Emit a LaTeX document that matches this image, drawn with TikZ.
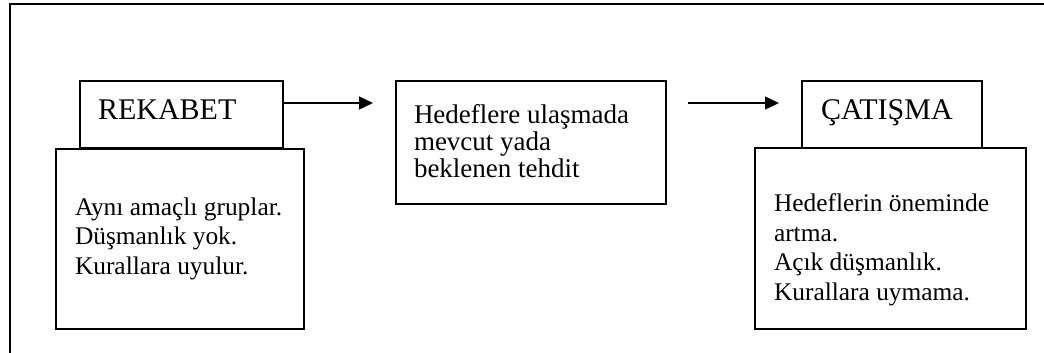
\documentclass[tikz,border=0pt]{standalone}
\usepackage{fontspec}
\setmainfont{Liberation Serif}
\usetikzlibrary{arrows.meta}
\begin{document}
\begin{tikzpicture}[x=1pt,y=-1pt,
  boxst/.style={draw,line width=1.4pt,inner sep=0pt,outer sep=0pt,anchor=north west},
  txt/.style={anchor=base west,inner sep=0pt,outer sep=0pt,align=left},
  big/.style={font=\fontsize{30}{34}\selectfont},
  mid/.style={font=\fontsize{27}{27}\selectfont},
  small/.style={font=\fontsize{25.4}{29.5}\selectfont},
  arr/.style={line width=1.4pt,-{Triangle[length=14pt,width=13pt]}}]
\useasboundingbox (0,0) rectangle (1044,353);
% outer frame
\draw[line width=1.4pt] (10,353) -- (10,4) -- (1044,4);
% left group
\node[boxst,minimum width=248pt,minimum height=180pt] (rekl) at (56,149) {};
\node[boxst,minimum width=203pt,minimum height=67pt,fill=white] (rek) at (80,81) {};
\node[txt,big] (rekt) at (98,119) {REKABET};
\node[txt,small] (rekd) at (75,274) {Aynı amaçlı gruplar.\\Düşmanlık yok.\\Kurallara uyulur.};
% middle
\node[boxst,minimum width=270pt,minimum height=123pt] (midb) at (396,81) {};
\node[txt,mid] (midt) at (414,177) {Hedeflere ulaşmada\\mevcut yada\\beklenen tehdit};
% right group
\node[boxst,minimum width=271pt,minimum height=181pt] (catl) at (755,148) {};
\node[boxst,minimum width=180pt,minimum height=67pt,fill=white] (cat) at (802,81) {};
\node[txt,big] (catt) at (821,119) {ÇATIŞMA};
\node[txt,small] (catd) at (774,300) {Hedeflerin öneminde\\artma.\\Açık düşmanlık.\\Kurallara uymama.};
% arrows
\coordinate (a1e) at (373,103);
\coordinate (a2s) at (688,103);
\coordinate (a2e) at (779,103);
\draw[arr] (rek.east |- a1e) -- (a1e);
\draw[arr] (a2s) -- (a2e);
\end{tikzpicture}
\end{document}
